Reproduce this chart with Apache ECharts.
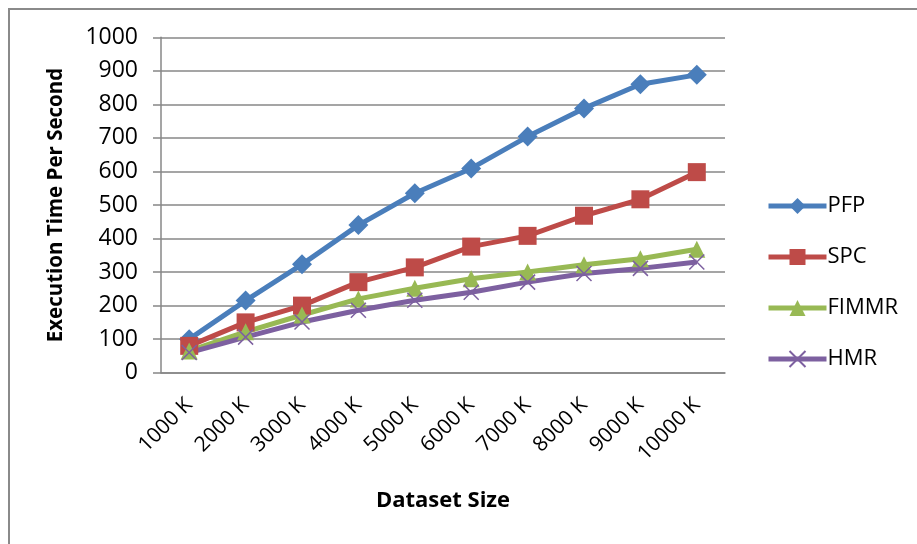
<!DOCTYPE html>
<html>
<head>
<meta charset="utf-8">
<script src="https://cdn.jsdelivr.net/npm/echarts@6/dist/echarts.min.js"></script>
<style>
  html, body { margin: 0; padding: 0; background: #fff; }
  #chart { width: 917px; height: 544px; }
</style>
</head>
<body>
<div id="chart"></div>
<script>
// Dataset sizes on the x axis
const categories = ['1000 K', '2000 K', '3000 K', '4000 K', '5000 K',
                    '6000 K', '7000 K', '8000 K', '9000 K', '10000 K'];

// Execution time for each algorithm
const pfp   = [100, 215, 323, 440, 535, 609, 704, 788, 860, 888];
const spc   = [80, 150, 200, 270, 314, 376, 408, 468, 517, 598];
const fimmr = [65, 122, 172, 220, 252, 280, 300, 322, 340, 368];
const hmr   = [60, 106, 151, 186, 216, 240, 270, 296, 311, 330];

const yTicks = { min: 0, max: 1000, interval: 100 };

const FONT = 'Open Sans';
const axisGray = '#878787';

const crossPath = 'path://M0,0L10,10M10,0L0,10';

function makeSeries(name, data, color, symbol, size, extra) {
  return Object.assign({
    name: name,
    type: 'line',
    data: data,
    symbol: symbol,
    symbolSize: size,
    showAllSymbol: true,
    lineStyle: { color: color, width: 5 },
    itemStyle: { color: color },
    emphasis: { disabled: true },
    animation: false
  }, extra || {});
}

const chart = echarts.init(document.getElementById('chart'), null, { renderer: 'canvas' });

chart.setOption({
  backgroundColor: '#ffffff',
  animation: false,
  textStyle: { fontFamily: FONT },
  grid: { left: 161, right: 192, top: 37.3, bottom: 171.3, containLabel: false },
  graphic: [{
    type: 'rect',
    shape: { x: 9, y: 9, width: 940, height: 580 },
    style: { fill: 'none', stroke: '#8a8a8a', lineWidth: 2 },
    silent: true,
    z: -1
  }],
  legend: {
    orient: 'vertical',
    left: 761,
    top: 190,
    itemWidth: 58,
    itemHeight: 20,
    itemGap: 29,
    lineStyle: { width: 5 },
    textStyle: { fontFamily: FONT, fontSize: 22, color: '#000', padding: [0, 0, 0, -4] },
    data: ['PFP', 'SPC', 'FIMMR', 'HMR']
  },
  xAxis: {
    type: 'category',
    data: categories,
    boundaryGap: true,
    name: 'Dataset Size',
    nameLocation: 'middle',
    nameGap: 117,
    nameTextStyle: { fontFamily: FONT, fontSize: 22, fontWeight: 'bold', color: '#000' },
    axisLine: { show: true, lineStyle: { color: axisGray, width: 1.5 } },
    axisTick: { show: false },
    axisLabel: { rotate: 45, margin: 29, fontFamily: FONT, fontSize: 21, color: '#000' },
    splitLine: { show: false }
  },
  yAxis: {
    type: 'value',
    min: yTicks.min,
    max: yTicks.max,
    interval: yTicks.interval,
    name: 'Execution Time Per Second',
    nameLocation: 'middle',
    nameGap: 94,
    nameRotate: 90,
    nameTextStyle: { fontFamily: FONT, fontSize: 20.5, fontWeight: 'bold', color: '#000' },
    axisLine: { show: true, lineStyle: { color: axisGray, width: 1.5 } },
    axisTick: { show: true, length: 8, inside: false, lineStyle: { color: axisGray, width: 1.5 } },
    axisLabel: { margin: 23, fontFamily: FONT, fontSize: 23, color: '#000', formatter: v => String(v) },
    splitLine: { show: true, lineStyle: { color: axisGray, width: 1.5 } }
  },
  series: [
    makeSeries('PFP', pfp, '#4A7EBB', 'diamond', 20),
    makeSeries('SPC', spc, '#BE4B48', 'rect', 18),
    makeSeries('FIMMR', fimmr, '#98B954', 'triangle', 17),
    makeSeries('HMR', hmr, '#7D60A0', crossPath, 15, {
      itemStyle: { color: '#7D60A0', borderColor: '#7D60A0', borderWidth: 1.5 }
    })
  ]
});
</script>
</body>
</html>
